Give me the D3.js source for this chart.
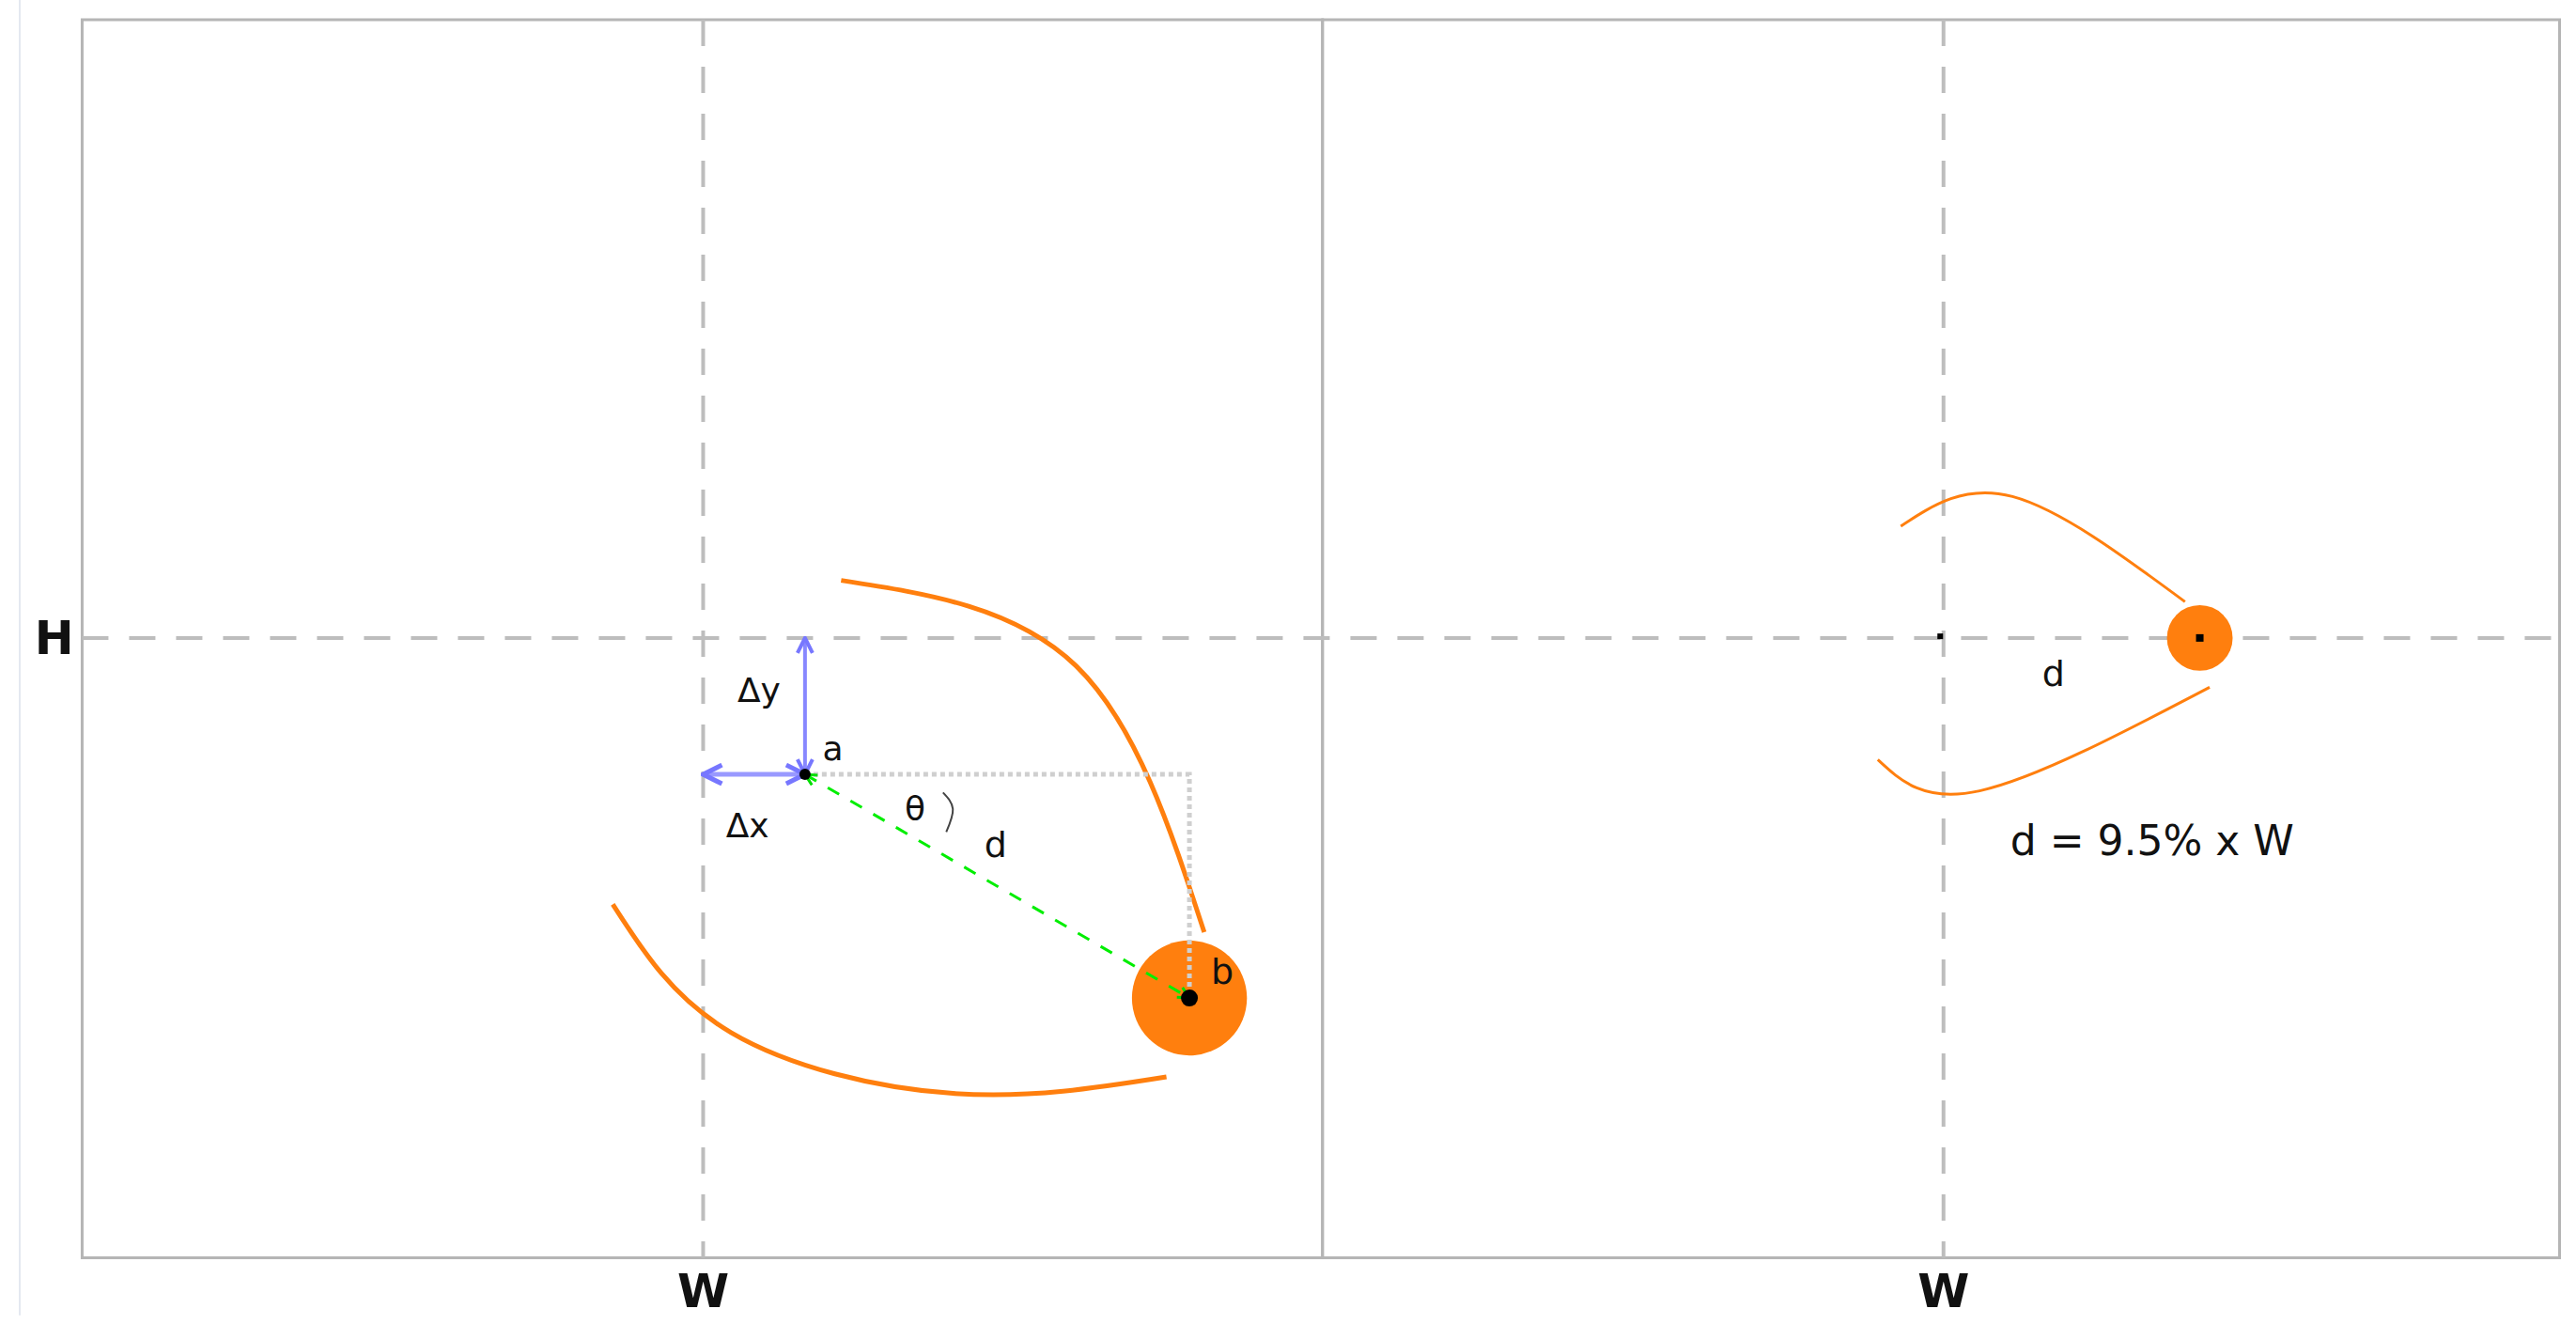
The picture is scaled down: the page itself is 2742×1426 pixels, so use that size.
<!DOCTYPE html>
<meta charset="utf-8">
<style>
  body{margin:0;background:#fff;}
  text{font-family:"DejaVu Sans",sans-serif;fill:#111;}
</style>
<body>
<svg id="chart" width="2742" height="1426"></svg>
<script src="https://d3js.org/d3.v7.min.js"></script>
<script>
// values in reference units (image 1568 wide)
var panels = [[50,805],[805,1558]];
var panelY = [12,765];
var guideX = [428,1183];
var guideY = 388;
var pointA = [490,471], pointB = [724,607];
var leftUpperArc = [[512,353],[655,405],[733,567]];
var leftLowerArc = [[373,550],[445,628],[580,665],[710,655]];
var rightCenter = [1181,387], rightDot = [1339,388];
var rightUpperArc = [[1157,320],[1225,302],[1330,366]];
var rightLowerArc = [[1143,462],[1205,481],[1345,418]];
var labels = [
  {t:"H",x:33,y:388,b:1,s:50},{t:"W",x:428,y:785,b:1,s:50},{t:"W",x:1183,y:785,b:1,s:50},
  {t:"Δy",x:462,y:420,s:36},{t:"Δx",x:455,y:502,s:36},{t:"a",x:507,y:455,s:36},
  {t:"θ",x:557,y:492,s:36},{t:"d",x:606,y:514,s:38},{t:"b",x:744,y:591,s:38},
  {t:"d",x:1250,y:410,s:38},{t:"d = 9.5% x W",x:1310,y:511,s:44}
];

var sx = d3.scaleLinear().domain([0,1568]).range([0,2742]);
var sy = d3.scaleLinear().domain([0,815]).range([0,1426]);
var svg = d3.select("#chart");
var orange = "#ff7f0e";

svg.append("line").attr("x1",sx(12)).attr("x2",sx(12)).attr("y1",sy(0)).attr("y2",sy(800))
  .attr("stroke","#e4e8f0").attr("stroke-width",2);

panels.forEach(function(p){
  svg.append("rect").attr("x",sx(p[0])).attr("y",sy(panelY[0]))
    .attr("width",sx(p[1])-sx(p[0])).attr("height",sy(panelY[1])-sy(panelY[0]))
    .attr("fill","none").attr("stroke","#b5b5b5").attr("stroke-width",3);
});
guideX.forEach(function(g){
  svg.append("line").attr("x1",sx(g)).attr("x2",sx(g)).attr("y1",sy(panelY[0])).attr("y2",sy(panelY[1]))
    .attr("stroke","#bdbdbd").attr("stroke-width",4).attr("stroke-dasharray","28,22");
});
svg.append("line").attr("x1",sx(50)).attr("x2",sx(1558)).attr("y1",sy(guideY)).attr("y2",sy(guideY))
  .attr("stroke","#bdbdbd").attr("stroke-width",4).attr("stroke-dasharray","28,22");

var defs = svg.append("defs");
function marker(id,col){
  defs.append("marker").attr("id",id).attr("viewBox","0 0 10 10").attr("refX",9).attr("refY",5)
    .attr("markerWidth",5).attr("markerHeight",5).attr("orient","auto-start-reverse")
    .append("path").attr("d","M1,1L9,5L1,9").attr("fill","none").attr("stroke",col).attr("stroke-width",2);
}
marker("mb","#7777ff"); marker("mg","#00dd00");

var line = d3.line().x(function(d){return sx(d[0]);}).y(function(d){return sy(d[1]);});
var curve = d3.line().curve(d3.curveNatural).x(function(d){return sx(d[0]);}).y(function(d){return sy(d[1]);});

// arcs
svg.append("path").attr("d",curve(leftUpperArc)).attr("fill","none").attr("stroke",orange).attr("stroke-width",5);
svg.append("path").attr("d",curve(leftLowerArc)).attr("fill","none").attr("stroke",orange).attr("stroke-width",5);
svg.append("path").attr("d",curve(rightUpperArc)).attr("fill","none").attr("stroke",orange).attr("stroke-width",3);
svg.append("path").attr("d",curve(rightLowerArc)).attr("fill","none").attr("stroke",orange).attr("stroke-width",3);

// dots
svg.append("circle").attr("cx",sx(pointB[0])).attr("cy",sy(pointB[1])).attr("r",sx(35)).attr("fill",orange);
svg.append("circle").attr("cx",sx(rightDot[0])).attr("cy",sy(rightDot[1])).attr("r",sx(20)).attr("fill",orange);

// dotted projection
svg.append("path").attr("d",line([pointA,[pointB[0],pointA[1]],pointB])).attr("fill","none")
  .attr("stroke","#cfcfcf").attr("stroke-width",5).attr("stroke-dasharray","5,4");

// delta arrows
svg.append("path").attr("d",line([pointA,[pointA[0],guideY]])).attr("stroke","#8888ff").attr("stroke-width",4)
  .attr("marker-end","url(#mb)").attr("marker-start","url(#mb)");
svg.append("path").attr("d",line([pointA,[guideX[0],pointA[1]]])).attr("stroke","#9999ff").attr("stroke-width",5)
  .attr("marker-end","url(#mb)").attr("marker-start","url(#mb)");

// distance d
svg.append("path").attr("d",line([pointA,pointB])).attr("stroke","#00ee00").attr("stroke-width",3)
  .attr("stroke-dasharray","14,14").attr("marker-end","url(#mg)").attr("marker-start","url(#mg)");

// theta arc
svg.append("path").attr("d",curve([[574,482],[580,492],[576,506]])).attr("fill","none").attr("stroke","#444").attr("stroke-width",2);

// point markers
svg.append("circle").attr("cx",sx(pointA[0])).attr("cy",sy(pointA[1])).attr("r",6).attr("fill","#000");
svg.append("circle").attr("cx",sx(pointB[0])).attr("cy",sy(pointB[1])).attr("r",9).attr("fill","#000");
svg.append("rect").attr("x",sx(rightCenter[0])-3).attr("y",sy(rightCenter[1])-3).attr("width",6).attr("height",6).attr("fill","#000");
svg.append("rect").attr("x",sx(rightDot[0])-4).attr("y",sy(rightDot[1])-4).attr("width",8).attr("height",8).attr("fill","#000");

svg.selectAll("text.lab").data(labels).enter().append("text").attr("class","lab")
  .attr("x",function(d){return sx(d.x);}).attr("y",function(d){return sy(d.y);})
  .attr("text-anchor","middle").attr("dominant-baseline","central")
  .attr("font-size",function(d){return d.s;})
  .attr("font-weight",function(d){return d.b ? "bold" : "normal";})
  .text(function(d){return d.t;});
</script>
</body>
